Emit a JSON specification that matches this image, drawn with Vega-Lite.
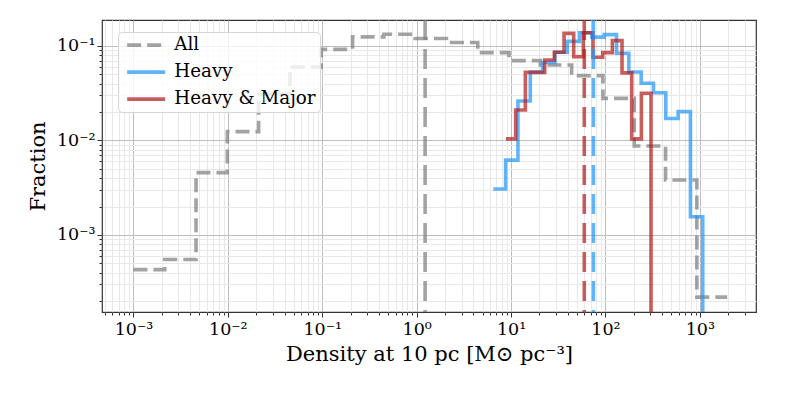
{
  "$schema": "https://vega.github.io/schema/vega-lite/v6.json",
  "width": 654,
  "height": 292,
  "autosize": {"type": "none"},
  "padding": {"left": 102, "top": 20, "right": 33, "bottom": 83},
  "background": "white",
  "config": {
    "font": "DejaVu Serif",
    "view": {"stroke": "#333333", "strokeWidth": 1.2},
    "axis": {
      "labelFont": "DejaVu Serif",
      "labelFontSize": 17.5,
      "labelColor": "black",
      "titleFont": "DejaVu Serif",
      "titleFontSize": 21,
      "titleFontWeight": "normal",
      "titleColor": "black",
      "domain": false,
      "tickColor": "#333333",
      "tickWidth": 1,
      "grid": true,
      "labelOverlap": false,
      "labelBound": false,
      "labelFlush": false
    }
  },
  "datasets": {
    "hist": [
      {"series": "All", "i": 0, "x": 0.001, "y": 0.00043},
      {"series": "All", "i": 1, "x": 0.002146, "y": 0.00055},
      {"series": "All", "i": 2, "x": 0.004604, "y": 0.00457},
      {"series": "All", "i": 3, "x": 0.009879, "y": 0.0124},
      {"series": "All", "i": 4, "x": 0.0212, "y": 0.031},
      {"series": "All", "i": 5, "x": 0.04548, "y": 0.06},
      {"series": "All", "i": 6, "x": 0.09761, "y": 0.092},
      {"series": "All", "i": 7, "x": 0.2095, "y": 0.125},
      {"series": "All", "i": 8, "x": 0.4494, "y": 0.133},
      {"series": "All", "i": 9, "x": 0.9643, "y": 0.12},
      {"series": "All", "i": 10, "x": 2.069, "y": 0.109},
      {"series": "All", "i": 11, "x": 4.44, "y": 0.085},
      {"series": "All", "i": 12, "x": 9.526, "y": 0.07},
      {"series": "All", "i": 13, "x": 20.44, "y": 0.063},
      {"series": "All", "i": 14, "x": 43.86, "y": 0.0486},
      {"series": "All", "i": 15, "x": 94.12, "y": 0.0279},
      {"series": "All", "i": 16, "x": 202.0, "y": 0.00875},
      {"series": "All", "i": 17, "x": 433.4, "y": 0.00382},
      {"series": "All", "i": 18, "x": 929.9, "y": 0.00022},
      {"series": "All", "i": 19, "x": 1950, "y": 0.00022},
      {"series": "Heavy", "i": 0, "x": 6.494, "y": 0.00307},
      {"series": "Heavy", "i": 1, "x": 8.77, "y": 0.0062},
      {"series": "Heavy", "i": 2, "x": 11.84, "y": 0.0262},
      {"series": "Heavy", "i": 3, "x": 15.996, "y": 0.053},
      {"series": "Heavy", "i": 4, "x": 21.6, "y": 0.067},
      {"series": "Heavy", "i": 5, "x": 29.17, "y": 0.086},
      {"series": "Heavy", "i": 6, "x": 39.39, "y": 0.112},
      {"series": "Heavy", "i": 7, "x": 53.21, "y": 0.138},
      {"series": "Heavy", "i": 8, "x": 71.86, "y": 0.124},
      {"series": "Heavy", "i": 9, "x": 97.05, "y": 0.132},
      {"series": "Heavy", "i": 10, "x": 131.1, "y": 0.0837},
      {"series": "Heavy", "i": 11, "x": 177.0, "y": 0.053},
      {"series": "Heavy", "i": 12, "x": 239.1, "y": 0.0403},
      {"series": "Heavy", "i": 13, "x": 322.8, "y": 0.032},
      {"series": "Heavy", "i": 14, "x": 436.0, "y": 0.0171},
      {"series": "Heavy", "i": 15, "x": 588.8, "y": 0.0202},
      {"series": "Heavy", "i": 16, "x": 795.2, "y": 0.00156},
      {"series": "Heavy", "i": 17, "x": 1074, "y": 0.00156},
      {"series": "Heavy", "i": 18, "x": 1074, "y": 0.000001},
      {"series": "Heavy & Major", "i": 0, "x": 8.851, "y": 0.0104},
      {"series": "Heavy & Major", "i": 1, "x": 11.2, "y": 0.021},
      {"series": "Heavy & Major", "i": 2, "x": 14.18, "y": 0.0526},
      {"series": "Heavy & Major", "i": 3, "x": 17.96, "y": 0.0526},
      {"series": "Heavy & Major", "i": 4, "x": 22.73, "y": 0.071},
      {"series": "Heavy & Major", "i": 5, "x": 28.77, "y": 0.086},
      {"series": "Heavy & Major", "i": 6, "x": 36.43, "y": 0.136},
      {"series": "Heavy & Major", "i": 7, "x": 46.11, "y": 0.077},
      {"series": "Heavy & Major", "i": 8, "x": 58.38, "y": 0.138},
      {"series": "Heavy & Major", "i": 9, "x": 73.9, "y": 0.076},
      {"series": "Heavy & Major", "i": 10, "x": 93.55, "y": 0.085},
      {"series": "Heavy & Major", "i": 11, "x": 118.4, "y": 0.114},
      {"series": "Heavy & Major", "i": 12, "x": 149.9, "y": 0.052},
      {"series": "Heavy & Major", "i": 13, "x": 189.8, "y": 0.0104},
      {"series": "Heavy & Major", "i": 14, "x": 240.3, "y": 0.0316},
      {"series": "Heavy & Major", "i": 15, "x": 304.1, "y": 0.0316},
      {"series": "Heavy & Major", "i": 16, "x": 304.1, "y": 0.000001}
    ],
    "medians": [
      {"series": "All", "x": 1.23},
      {"series": "Heavy", "x": 74.5},
      {"series": "Heavy & Major", "x": 59.7}
    ]
  },
  "layer": [
    {
      "data": {"name": "hist"},
      "mark": {"type": "line", "interpolate": "step-after", "clip": true, "strokeWidth": 3.6, "strokeOpacity": 0.7},
      "encoding": {
        "x": {
          "field": "x",
          "type": "quantitative",
          "scale": {"type": "log", "domain": [0.0004645, 3936], "nice": false},
          "title": "Density at 10 pc [M⊙ pc⁻³]",
          "axis": {
            "values": [0.0005, 0.0006, 0.0007, 0.0008, 0.0009, 0.001, 0.002, 0.003, 0.004, 0.005, 0.006, 0.007, 0.008, 0.009, 0.01, 0.02, 0.03, 0.04, 0.05, 0.06, 0.07, 0.08, 0.09, 0.1, 0.2, 0.3, 0.4, 0.5, 0.6, 0.7, 0.8, 0.9, 1, 2, 3, 4, 5, 6, 7, 8, 9, 10, 20, 30, 40, 50, 60, 70, 80, 90, 100, 200, 300, 400, 500, 600, 700, 800, 900, 1000, 2000, 3000],
            "labelExpr": "datum.value==0.001?'10⁻³':datum.value==0.01?'10⁻²':datum.value==0.1?'10⁻¹':datum.value==1?'10⁰':datum.value==10?'10¹':datum.value==100?'10²':datum.value==1000?'10³':''",
            "gridColor": {"condition": {"test": "indexof([0.001,0.01,0.1,1,10,100,1000], datum.value) >= 0", "value": "#bdbdbd"}, "value": "#e8e8e8"},
            "tickSize": {"condition": {"test": "indexof([0.001,0.01,0.1,1,10,100,1000], datum.value) >= 0", "value": 5}, "value": 3},
            "labelPadding": 3,
            "titlePadding": 6
          }
        },
        "y": {
          "field": "y",
          "type": "quantitative",
          "scale": {"type": "log", "domain": [0.0001531, 0.1884], "nice": false},
          "title": "Fraction",
          "axis": {
            "values": [0.0002, 0.0003, 0.0004, 0.0005, 0.0006, 0.0007, 0.0008, 0.0009, 0.001, 0.002, 0.003, 0.004, 0.005, 0.006, 0.007, 0.008, 0.009, 0.01, 0.02, 0.03, 0.04, 0.05, 0.06, 0.07, 0.08, 0.09, 0.1],
            "labelExpr": "datum.value==0.001?'10⁻³':datum.value==0.01?'10⁻²':datum.value==0.1?'10⁻¹':''",
            "gridColor": {"condition": {"test": "indexof([0.001,0.01,0.1], datum.value) >= 0", "value": "#bdbdbd"}, "value": "#e8e8e8"},
            "tickSize": {"condition": {"test": "indexof([0.001,0.01,0.1], datum.value) >= 0", "value": 5}, "value": 3},
            "labelPadding": 2,
            "titlePadding": 8
          }
        },
        "color": {
          "field": "series",
          "type": "nominal",
          "scale": {"domain": ["All", "Heavy", "Heavy & Major"], "range": ["#7c7c7c", "#2094f8", "#b01a1a"]},
          "legend": {
            "title": null,
            "orient": "none",
            "legendX": 16,
            "legendY": 12,
            "symbolType": "M-0.571,0H4.857",
            "symbolSize": 196,
            "symbolStrokeWidth": 3.6,
            "symbolOpacity": 0.7,
            "symbolFillColor": "transparent",
            "labelFont": "DejaVu Serif",
            "labelFontSize": 18.3,
            "labelColor": "black",
            "labelOffset": 34,
            "padding": 4,
            "rowPadding": 8,
            "fillColor": "rgba(255,255,255,0.8)",
            "strokeColor": "#d6d6d6",
            "cornerRadius": 4
          }
        },
        "strokeDash": {
          "field": "series",
          "type": "nominal",
          "scale": {"domain": ["All", "Heavy", "Heavy & Major"], "range": [[14, 6], [1, 0], [1, 0]]},
          "legend": {
            "title": null,
            "orient": "none",
            "legendX": 16,
            "legendY": 12,
            "symbolType": "M-0.571,0H4.857",
            "symbolSize": 196,
            "symbolStrokeWidth": 3.6,
            "symbolOpacity": 0.7,
            "symbolFillColor": "transparent",
            "labelFont": "DejaVu Serif",
            "labelFontSize": 18.3,
            "labelColor": "black",
            "labelOffset": 34,
            "padding": 4,
            "rowPadding": 8,
            "fillColor": "rgba(255,255,255,0.8)",
            "strokeColor": "#d6d6d6",
            "cornerRadius": 4
          }
        },
        "order": {"field": "i", "type": "quantitative"}
      }
    },
    {
      "data": {"name": "medians"},
      "mark": {"type": "rule", "strokeDash": [20, 9], "strokeWidth": 3.6, "strokeOpacity": 0.7},
      "encoding": {
        "x": {"field": "x", "type": "quantitative"},
        "color": {"field": "series", "type": "nominal"}
      }
    }
  ]
}
